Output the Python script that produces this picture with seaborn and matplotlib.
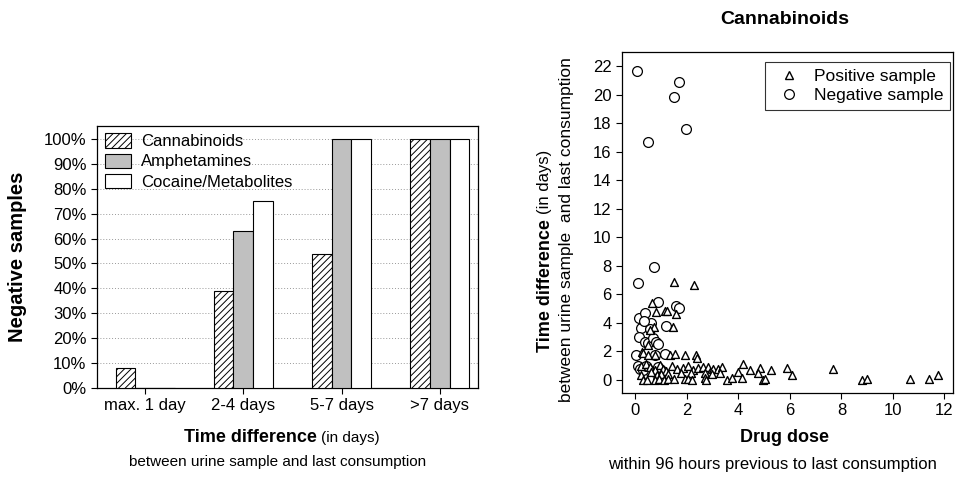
import numpy as np
import pandas as pd
import matplotlib
matplotlib.use("Agg")
import matplotlib.pyplot as plt
import seaborn as sns
from matplotlib.patches import Patch
from matplotlib.lines import Line2D

sns.set_theme(style="ticks")
plt.rcParams['font.family'] = ['Liberation Sans', 'DejaVu Sans']
plt.rcParams['hatch.linewidth'] = 0.7
plt.rcParams['text.color'] = 'black'
plt.rcParams['axes.labelcolor'] = 'black'
plt.rcParams['xtick.color'] = 'black'
plt.rcParams['ytick.color'] = 'black'

# ---------------- data: bar chart ----------------
categories = ["max. 1 day", "2-4 days", "5-7 days", ">7 days"]
drugs = ["Cannabinoids", "Amphetamines", "Cocaine/Metabolites"]
cannabinoids = [8, 39, 54, 100]
amphetamines = [0, 63, 100, 100]
cocaine = [0, 75, 100, 100]
pct_ticks = list(range(0, 101, 10))

# ---------------- data: scatter ----------------
pos_x = [1.50, 2.26, 0.66, 0.81, 1.14, 1.22, 1.59, 1.46, 0.72, 0.58, 0.48,
         0.25, 0.31, 0.50, 0.75, 1.34, 1.54, 1.93, 2.35, 2.38,
         0.22, 0.40, 0.57, 0.76, 0.96, 1.09, 1.21, 1.41, 1.60, 1.86, 2.05, 2.25,
         2.44, 2.64, 2.84, 2.90, 3.02, 3.22, 3.36, 3.30, 4.00, 4.20, 4.46, 4.84,
         4.78, 5.27, 5.88, 6.07, 7.66, 1.79, 2.18, 2.70, 2.96, 0.24, 0.83, 1.28,
         0.60, 1.00,
         0.31, 0.45, 0.76, 0.93, 1.10, 1.28, 1.50, 1.93, 2.05, 2.20, 2.69, 2.76,
         3.55, 3.74, 4.13, 4.97, 5.04, 8.79, 8.98, 10.66, 11.40, 11.76]
pos_y = [6.87, 6.63, 5.42, 4.77, 4.84, 4.84, 4.62, 3.73, 3.70, 3.50, 2.46,
         1.95, 1.87, 1.75, 1.75, 1.75, 1.80, 1.77, 1.77, 1.52,
         1.00, 1.15, 0.90, 0.70, 1.05, 0.80, 0.65, 0.95, 0.75, 0.85, 0.95, 0.70,
         0.82, 0.90, 0.93, 0.58, 0.75, 0.80, 0.93, 0.50, 0.58, 1.12, 0.70, 0.82,
         0.47, 0.70, 0.82, 0.35, 0.77, 0.50, 0.50, 0.50, 0.45, 0.35, 0.35, 0.40,
         0.55, 0.45,
         0.00, 0.00, 0.00, 0.05, 0.00, 0.05, 0.05, 0.05, 0.10, 0.00, 0.12, 0.00,
         0.00, 0.12, 0.12, 0.00, 0.10, 0.00, 0.07, 0.07, 0.07, 0.35]
neg_x = [0.07, 1.68, 1.50, 1.98, 0.49, 0.10, 0.74, 0.88, 1.59, 1.68, 1.20,
         0.16, 0.36, 0.23, 0.62, 0.58, 0.16, 0.39, 0.50, 0.69, 0.81, 0.88,
         0.04, 0.75, 1.14, 0.10, 0.18, 0.48, 0.58, 0.75, 1.00, 0.30, 0.40,
         0.90, 0.35]
neg_y = [21.65, 20.86, 19.83, 17.60, 16.68, 6.80, 7.92, 5.50, 5.18, 5.07, 3.78,
         4.35, 4.67, 3.67, 3.97, 3.55, 3.04, 2.69, 2.60, 2.92, 2.64, 2.55,
         1.75, 1.75, 1.82, 0.98, 0.77, 0.76, 0.63, 0.58, 0.70, 0.70, 1.00,
         0.90, 4.10]
scatter_xticks = list(range(0, 13, 2))
scatter_yticks = list(range(0, 23, 2))

W, H = 956, 484
fig = plt.figure(figsize=(W / 100, H / 100), dpi=100)


def fx(px):
    return px / W


def fy(py):
    return 1 - py / H


# ---------------- bar chart ----------------
ax1 = fig.add_axes([fx(97), fy(388), fx(478) - fx(97), fy(126) - fy(388)])
bar_df = pd.DataFrame({
    "cat": categories * 3,
    "drug": [drugs[0]] * 4 + [drugs[1]] * 4 + [drugs[2]] * 4,
    "val": cannabinoids + amphetamines + cocaine,
})
sns.barplot(data=bar_df, x="cat", y="val", hue="drug", order=categories,
            hue_order=drugs, palette=["white", "#c0c0c0", "white"],
            width=0.6, edgecolor="black", linewidth=0.8, ax=ax1,
            legend=False, zorder=3)
for p in ax1.containers[0]:
    p.set_hatch("/////")
ax1.set_ylim(0, 105.2)
ax1.set_xlim(-0.49, 3.39)
ax1.set_yticks(pct_ticks)
ax1.set_yticklabels([f"{t}%" for t in pct_ticks])
ax1.yaxis.grid(True, linestyle=(0, (1, 2)), color="#999999", linewidth=0.7, zorder=0)
ax1.set_axisbelow(True)
ax1.set_xlabel("")
ax1.set_ylabel("")
for s in ax1.spines.values():
    s.set_visible(True)
    s.set_color("black")
    s.set_linewidth(0.9)
ax1.tick_params(axis="both", direction="out", length=4, width=0.8,
                labelsize=12, colors="black")
handles = [Patch(facecolor="white", edgecolor="black", hatch="/////", linewidth=0.8),
           Patch(facecolor="#c0c0c0", edgecolor="black", linewidth=0.8),
           Patch(facecolor="white", edgecolor="black", linewidth=0.8)]
ax1.legend(handles, drugs, loc="upper left", bbox_to_anchor=(0, 1),
           borderaxespad=0, borderpad=0.45, frameon=False, fontsize=12,
           handlelength=1.6, handleheight=0.95, handletextpad=0.6,
           labelspacing=0.25)

fig.text(fx(18), fy(257), "Negative samples", rotation=90, ha="center",
         va="center", fontsize=14.5, fontweight="bold")
fig.text(fx(317), fy(438), "Time difference", ha="right", va="center",
         fontsize=13, fontweight="bold")
fig.text(fx(321), fy(438), "(in days)", ha="left", va="center", fontsize=11)
fig.text(fx(278), fy(462), "between urine sample and last consumption",
         ha="center", va="center", fontsize=11)

# ---------------- scatter ----------------
ax2 = fig.add_axes([fx(622), fy(393), fx(953) - fx(622), fy(52) - fy(393)])
neg_df = pd.DataFrame({"dose": neg_x, "time": neg_y})
pos_df = pd.DataFrame({"dose": pos_x, "time": pos_y})
sns.scatterplot(data=neg_df, x="dose", y="time", marker="o", s=50,
                color="white", edgecolor="black", linewidth=0.9, ax=ax2, zorder=3)
sns.scatterplot(data=pos_df, x="dose", y="time", marker="^", s=32,
                color="white", edgecolor="black", linewidth=1.0, ax=ax2, zorder=4)
ax2.set_xlim(-0.515, 12.33)
ax2.set_ylim(-0.91, 22.98)
ax2.set_xticks(scatter_xticks)
ax2.set_yticks(scatter_yticks)
ax2.set_xlabel("")
ax2.set_ylabel("")
for s in ax2.spines.values():
    s.set_visible(True)
    s.set_color("black")
    s.set_linewidth(0.9)
ax2.tick_params(axis="both", direction="out", length=4, width=0.8,
                labelsize=12, colors="black")
lh = [Line2D([], [], marker="^", linestyle="none", markersize=6,
             markerfacecolor="white", markeredgecolor="black", markeredgewidth=1.0),
      Line2D([], [], marker="o", linestyle="none", markersize=7,
             markerfacecolor="white", markeredgecolor="black", markeredgewidth=0.9)]
leg = ax2.legend(lh, ["Positive sample", "Negative sample"], loc="upper right",
                 bbox_to_anchor=(0.991, 0.971), borderaxespad=0, fontsize=12.5,
                 frameon=True, fancybox=False, edgecolor="black",
                 handlelength=2.0, handletextpad=0.4, borderpad=0.4,
                 labelspacing=0.2)
leg.get_frame().set_linewidth(0.8)

fig.text(fx(785), fy(20), "Cannabinoids", ha="center", va="center",
         fontsize=14, fontweight="bold")
fig.text(fx(785), fy(438), "Drug dose", ha="center", va="center",
         fontsize=13, fontweight="bold")
fig.text(fx(772), fy(464), "within 96 hours previous to last consumption",
         ha="center", va="center", fontsize=12)
fig.text(fx(545), fy(352), "Time difference", rotation=90, ha="center",
         va="bottom", fontsize=13, fontweight="bold")
fig.text(fx(545), fy(214), "(in days)", rotation=90, ha="center",
         va="bottom", fontsize=12)
fig.text(fx(566), fy(230), "between urine sample  and last consumption",
         rotation=90, ha="center", va="center", fontsize=12.5)

fig.savefig("out.png", dpi=100)
